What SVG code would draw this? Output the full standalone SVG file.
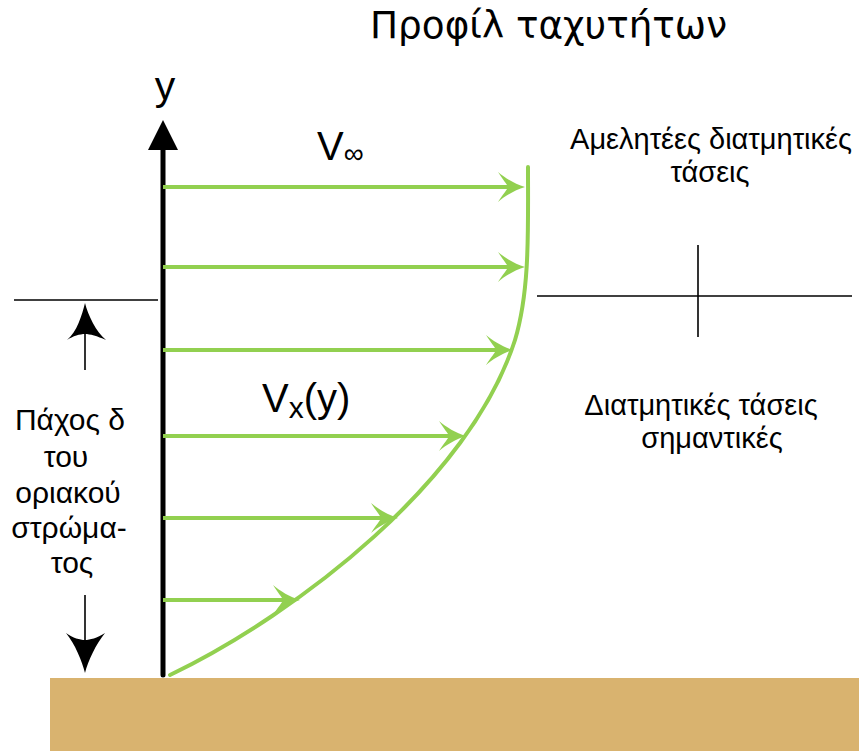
<svg xmlns="http://www.w3.org/2000/svg" width="859" height="751" viewBox="0 0 859 751">
<style>
text{font-family:"Liberation Sans",Arial,sans-serif;fill:#000}
.g{stroke:#92d050;stroke-width:4;fill:none}
.thin{stroke:#000;stroke-width:1.6;fill:none}
</style>
<defs>
<marker id="ga" markerUnits="userSpaceOnUse" viewBox="-30 -16 32 32" refX="-16" refY="0" markerWidth="32" markerHeight="32" orient="auto">
<path d="M0,0 C-10,-3 -20,-9 -27,-15 C-22,-7 -18,-3 -17,0 C-18,3 -22,7 -27,15 C-20,9 -10,3 0,0 Z" fill="#92d050"/>
</marker>
</defs>
<rect id="ground" x="50" y="678" width="809" height="73" fill="#d9b36f"/>
<g id="title"><text x="370" y="38" font-size="37" style="font-family:'DejaVu Sans','Liberation Sans',sans-serif" textLength="357" lengthAdjust="spacingAndGlyphs">Προφίλ ταχυτήτων</text></g>
<g id="axis">
<line x1="163" y1="148" x2="163" y2="675" stroke="#000" stroke-width="5" stroke-linecap="round"/>
<path d="M163,120 L178,150 L148,150 Z" fill="#000"/>
<text x="165" y="100" font-size="41" text-anchor="middle">y</text>
</g>
<g id="profile"><path class="g" stroke-linecap="round" d="M170,675 C300,612 470,480 515,340 C530,290 528,230 528,167"/></g>
<g id="connectors">
<line class="g" x1="163" y1="187" x2="509" y2="187" marker-end="url(#ga)"/>
<line class="g" x1="163" y1="267" x2="509" y2="267" marker-end="url(#ga)"/>
<line class="g" x1="163" y1="350" x2="497" y2="350" marker-end="url(#ga)"/>
<line class="g" x1="163" y1="436" x2="450" y2="436" marker-end="url(#ga)"/>
<line class="g" x1="163" y1="518" x2="382" y2="518" marker-end="url(#ga)"/>
<line class="g" x1="163" y1="600" x2="284" y2="600" marker-end="url(#ga)"/>
</g>
<g id="labels">
<text x="317" y="160" font-size="40">V<tspan font-size="28" dy="3">∞</tspan></text>
<text x="262" y="412" font-size="40">V<tspan font-size="30" dy="6">x</tspan><tspan dy="-6">(y)</tspan></text>
</g>
<g id="delta">
<line class="thin" x1="14" y1="300" x2="158" y2="300"/>
<line class="thin" x1="85" y1="320" x2="85" y2="370"/>
<path d="M85,303 C88,315 96,332 106,340 C97,336 90,334 85,334 C80,334 73,336 67,340 C77,332 82,315 85,303 Z" fill="#000"/>
<line class="thin" x1="85" y1="595" x2="85" y2="650"/>
<path d="M85,673 C88,661 96,644 105,633 C97,638 90,640 85,640 C80,640 73,638 66,633 C75,644 82,661 85,673 Z" fill="#000"/>
<g font-size="30" text-anchor="middle">
<text x="70" y="430">Πάχος δ</text>
<text x="66" y="467">του</text>
<text x="68" y="503">οριακού</text>
<text x="69" y="538">στρώμα-</text>
<text x="72" y="573">τος</text>
</g>
</g>
<g id="shear">
<line class="thin" x1="537" y1="296" x2="852" y2="296"/>
<line class="thin" x1="698" y1="245" x2="698" y2="337"/>
<g font-size="29" text-anchor="middle">
<text x="711" y="149">Αμελητέες διατμητικές</text>
<text x="710" y="182">τάσεις</text>
<text x="701" y="415">Διατμητικές τάσεις</text>
<text x="712" y="448">σημαντικές</text>
</g>
</g>
</svg>
